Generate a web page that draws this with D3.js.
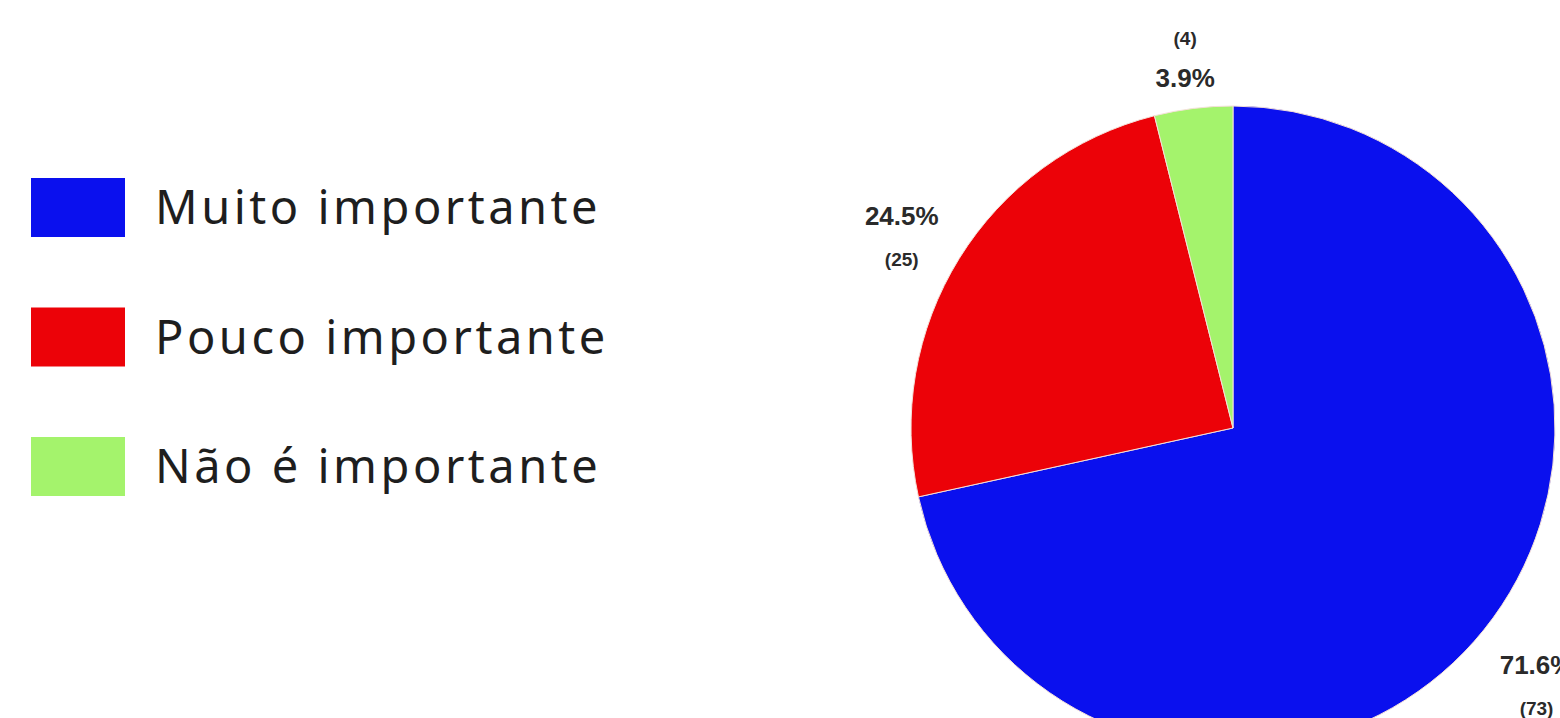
<!doctype html>
<html lang="pt">
<head>
  <meta charset="UTF-8">
  <title>Importância</title>
  <style>
    html, body { margin: 0; padding: 0; background: #fff; }
    #app { position: relative; width: 1560px; height: 718px; overflow: hidden; }
    .legend text { font-family: "Noto Sans", "Open Sans", sans-serif; fill: #1e1e1e; letter-spacing: 3.5px; }
    .lbl { font-family: "Liberation Sans", Arial, sans-serif; font-weight: bold; fill: #2a2a2a; }
  </style>
</head>
<body>
<div id="app"></div>
<script src="https://cdn.jsdelivr.net/npm/d3@7/dist/d3.min.js"></script>
<script>
  // data
  var categories = ['Muito importante', 'Pouco importante', 'Não é importante'];
  var counts = [73, 25, 4];
  var percents = ['71.6%', '24.5%', '3.9%'];
  var colors = ['#0a10ee', '#ec0208', '#a4f36c'];

  var width = 1560;
  var height = 718;
  var cx = 1233;
  var cy = 428;
  var r = 322;

  var svg = d3.select('#app')
              .append('svg')
              .attr('width', width)
              .attr('height', height);

  var rows = categories.map(function(c, i) {
    return { name: c, count: counts[i], pct: percents[i], color: colors[i] };
  });

  var pie = d3.pie()
    .value(d => d.count)
    .sort(null);

  var arc = d3.arc()
    .innerRadius(0)
    .outerRadius(r);

  var arcs = pie(rows);

  var g = svg.append('g')
    .attr('transform', 'translate(' + cx + ',' + cy + ')');

  g.selectAll('path.slice')
    .data(arcs)
    .enter()
    .append('path')
    .attr('class', 'slice')
    .attr('d', arc)
    .attr('fill', d => d.data.color)
    .attr('stroke', '#f4e0d8')
    .attr('stroke-width', 1);

  // labels: two lines per slice, percent + count, around the pie
  var labelArc = d3.arc().innerRadius(r * 1.21).outerRadius(r * 1.21);

  function isSmall(d) { return (d.endAngle - d.startAngle) < 0.35; }

  var lbl = g.selectAll('g.lbl')
    .data(arcs)
    .enter()
    .append('g')
    .attr('class', 'lbl')
    .attr('transform', d => {
      var p = labelArc.centroid(d);
      return 'translate(' + p[0] + ',' + (p[1] + r * 0.05) + ')';
    });

  lbl.each(function(d) {
    var el = d3.select(this);
    // small slice: count on top, otherwise percent on top
    var pctY = isSmall(d) ? 30 : -14;
    var cntY = isSmall(d) ? -12 : 27;
    el.append('text')
      .attr('class', 'lbl')
      .attr('text-anchor', 'middle')
      .attr('y', pctY)
      .attr('font-size', 26)
      .text(d.data.pct);
    el.append('text')
      .attr('class', 'lbl')
      .attr('text-anchor', 'middle')
      .attr('y', cntY)
      .attr('font-size', 19)
      .text('(' + d.data.count + ')');
  });

  // legend
  var legend = svg.append('g')
    .attr('class', 'legend')
    .attr('transform', 'translate(31,178)');

  var item = legend.selectAll('g.item')
    .data(rows)
    .enter()
    .append('g')
    .attr('class', 'item')
    .attr('transform', (d, i) => 'translate(0,' + i * 129.5 + ')');

  item.append('rect')
    .attr('width', 94)
    .attr('height', 59)
    .attr('fill', d => d.color);

  item.append('text')
    .attr('x', 124)
    .attr('y', 46)
    .attr('font-size', 47)
    .text(d => d.name);
</script>
</body>
</html>
